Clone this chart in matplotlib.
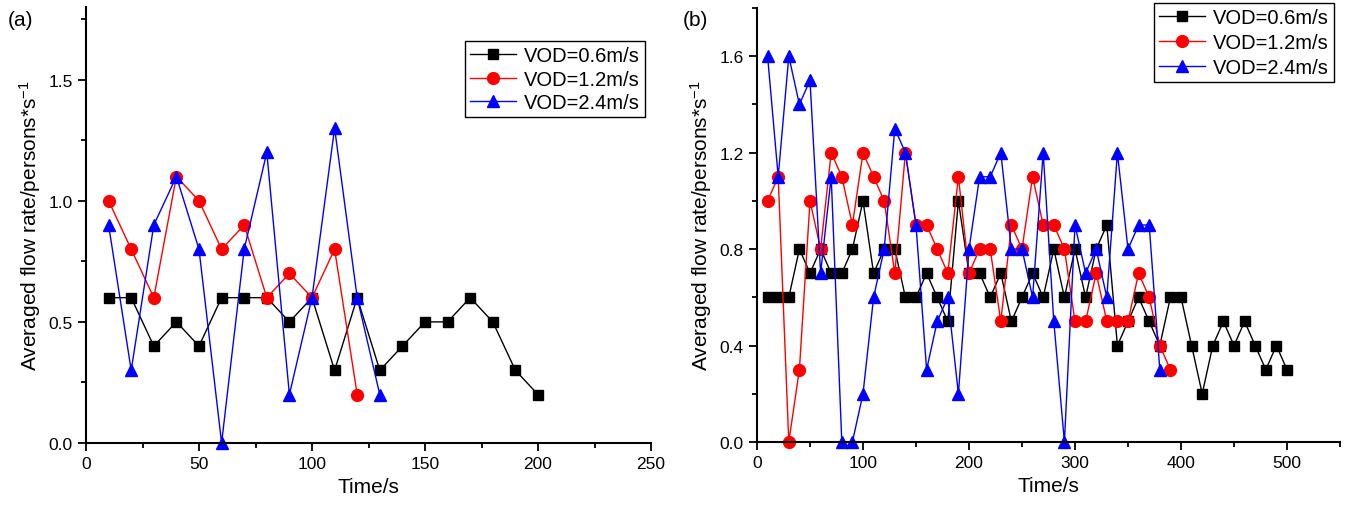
import matplotlib
matplotlib.use("Agg")
import matplotlib.pyplot as plt
from matplotlib.ticker import MultipleLocator, FormatStrFormatter

plt.rcParams['font.family'] = ['Liberation Sans', 'DejaVu Sans']
plt.rcParams['mathtext.fontset'] = 'custom'
plt.rcParams['mathtext.rm'] = 'Liberation Sans'
plt.rcParams['mathtext.it'] = 'Liberation Sans'
plt.rcParams['axes.unicode_minus'] = False

# Panel (a)
a_t06 = list(range(10, 201, 10))
a_v06 = [0.6, 0.6, 0.4, 0.5, 0.4, 0.6, 0.6, 0.6, 0.5, 0.6, 0.3, 0.6, 0.3, 0.4, 0.5, 0.5, 0.6, 0.5, 0.3, 0.2]
a_t12 = list(range(10, 121, 10))
a_v12 = [1.0, 0.8, 0.6, 1.1, 1.0, 0.8, 0.9, 0.6, 0.7, 0.6, 0.8, 0.2]
a_t24 = list(range(10, 131, 10))
a_v24 = [0.9, 0.3, 0.9, 1.1, 0.8, 0.0, 0.8, 1.2, 0.2, 0.6, 1.3, 0.6, 0.2]

# Panel (b)
b_t06 = list(range(10, 501, 10))
b_v06 = [0.6, 0.6, 0.6, 0.8, 0.7, 0.8, 0.7, 0.7, 0.8, 1.0,
         0.7, 0.8, 0.8, 0.6, 0.6, 0.7, 0.6, 0.5, 1.0, 0.7,
         0.7, 0.6, 0.7, 0.5, 0.6, 0.7, 0.6, 0.8, 0.6, 0.8,
         0.6, 0.8, 0.9, 0.4, 0.5, 0.6, 0.5, 0.4, 0.6, 0.6,
         0.4, 0.2, 0.4, 0.5, 0.4, 0.5, 0.4, 0.3, 0.4, 0.3]
b_t12 = list(range(10, 391, 10))
b_v12 = [1.0, 1.1, 0.0, 0.3, 1.0, 0.8, 1.2, 1.1, 0.9, 1.2,
         1.1, 1.0, 0.7, 1.2, 0.9, 0.9, 0.8, 0.7, 1.1, 0.7,
         0.8, 0.8, 0.5, 0.9, 0.8, 1.1, 0.9, 0.9, 0.8, 0.5,
         0.5, 0.7, 0.5, 0.5, 0.5, 0.7, 0.6, 0.4, 0.3]
b_t24 = list(range(10, 381, 10))
b_v24 = [1.6, 1.1, 1.6, 1.4, 1.5, 0.7, 1.1, 0.0, 0.0, 0.2,
         0.6, 0.8, 1.3, 1.2, 0.9, 0.3, 0.5, 0.6, 0.2, 0.8,
         1.1, 1.1, 1.2, 0.8, 0.8, 0.6, 1.2, 0.5, 0.0, 0.9,
         0.7, 0.8, 0.6, 1.2, 0.8, 0.9, 0.9, 0.3]

labels = ['VOD=0.6m/s', 'VOD=1.2m/s', 'VOD=2.4m/s']
colors = ['black', 'red', 'blue']
markers = ['s', 'o', '^']
msizes = [7.5, 8.5, 9]

W, H = 1347, 506
fig = plt.figure(figsize=(W / 100, H / 100), dpi=100)

def axrect(l, r, t, b):
    return [l / W, 1 - b / H, (r - l) / W, (b - t) / H]

ax1 = fig.add_axes(axrect(86, 651, 8, 444))
ax2 = fig.add_axes(axrect(757, 1340, 9, 443))

def draw(ax, series):
    for (t, v), lab, c, m, ms in zip(series, labels, colors, markers, msizes):
        ax.plot(t, v, color=c, marker=m, markersize=ms, linewidth=1.0,
                markeredgecolor=c, label=lab, clip_on=False)
    for s in ['top', 'right']:
        ax.spines[s].set_visible(False)
    for s in ['left', 'bottom']:
        ax.spines[s].set_linewidth(1.5)
    ax.tick_params(which='major', direction='out', length=6, width=1.3, labelsize=12.5)
    ax.tick_params(which='minor', direction='out', length=3.5, width=1.3)
    ax.set_xlabel('Time/s', fontsize=15)
    ax.set_ylabel('Averaged flow rate/persons*s$^{-1}$', fontsize=15)

def legend(ax, anchor_y, spacing):
    leg = ax.legend(loc='upper right', bbox_to_anchor=(1.0, anchor_y), fontsize=14.5,
                    frameon=True, fancybox=False, edgecolor='black', framealpha=1,
                    handlelength=2.3, borderpad=0.25, labelspacing=spacing,
                    handletextpad=0.4, borderaxespad=0.3)
    leg.get_frame().set_linewidth(1.0)

draw(ax1, [(a_t06, a_v06), (a_t12, a_v12), (a_t24, a_v24)])
ax1.set_xlim(0, 250)
ax1.set_ylim(0, 1.8)
ax1.xaxis.set_major_locator(MultipleLocator(50))
ax1.xaxis.set_minor_locator(MultipleLocator(25))
ax1.yaxis.set_major_locator(MultipleLocator(0.5))
ax1.yaxis.set_minor_locator(MultipleLocator(0.25))
ax1.yaxis.set_major_formatter(FormatStrFormatter('%.1f'))
legend(ax1, 0.935, 0.22)

draw(ax2, [(b_t06, b_v06), (b_t12, b_v12), (b_t24, b_v24)])
ax2.set_xlim(0, 550)
ax2.set_ylim(0, 1.8)
ax2.xaxis.set_major_locator(MultipleLocator(100))
ax2.xaxis.set_minor_locator(MultipleLocator(50))
ax2.yaxis.set_major_locator(MultipleLocator(0.4))
ax2.yaxis.set_minor_locator(MultipleLocator(0.2))
ax2.yaxis.set_major_formatter(FormatStrFormatter('%.1f'))
legend(ax2, 1.025, 0.3)

fig.text(8 / W, 1 - 20 / H, '(a)', fontsize=15, va='center', ha='left')
fig.text(683 / W, 1 - 20 / H, '(b)', fontsize=15, va='center', ha='left')

fig.savefig('out.png', dpi=100)
